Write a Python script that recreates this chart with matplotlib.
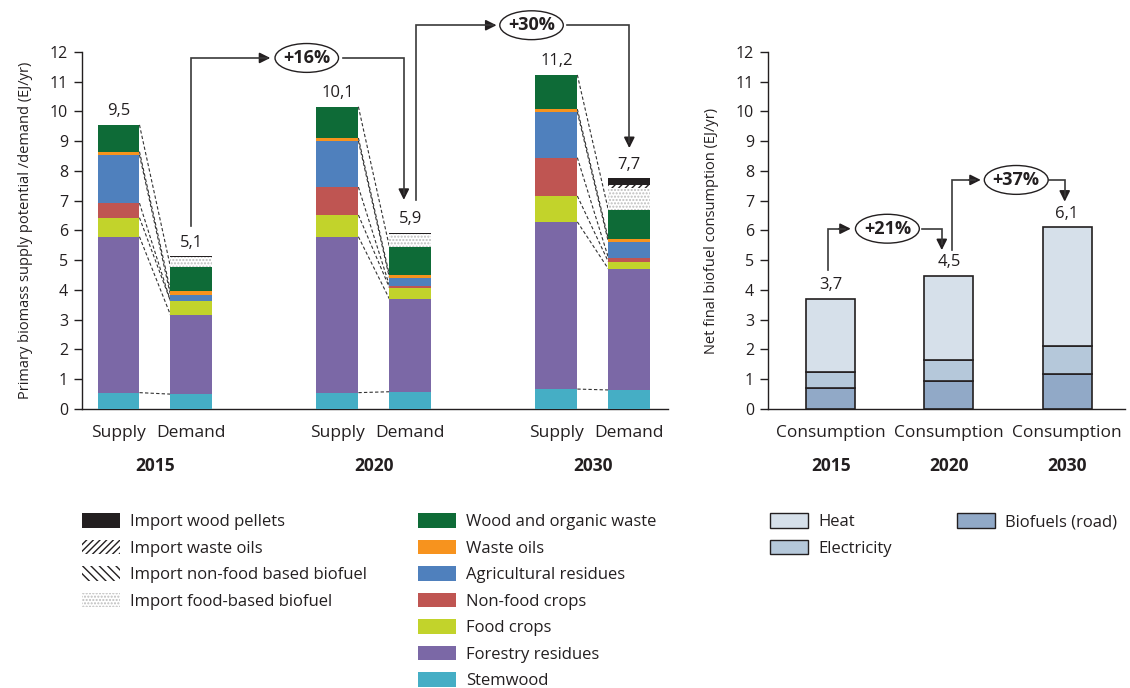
import numpy as np
import matplotlib
matplotlib.use("Agg")
import matplotlib.pyplot as plt
from matplotlib.patches import Patch, Ellipse

plt.rcParams['font.family'] = ['Open Sans', 'DejaVu Sans']
TXT = '#231f20'

# ---------------- data ----------------
years = ['2015', '2020', '2030']

# supply layers (bottom -> top)
sup_stemwood = [0.55, 0.55, 0.67]
sup_forestry = [5.24, 5.24, 5.62]
sup_food = [0.64, 0.73, 0.87]
sup_nonfood = [0.49, 0.94, 1.29]
sup_agri = [1.62, 1.55, 1.53]
sup_wasteoil = [0.11, 0.10, 0.10]
sup_wood = [0.90, 1.05, 1.15]

# demand layers (bottom -> top)
dem_stemwood = [0.50, 0.58, 0.64]
dem_forestry = [2.66, 3.12, 4.07]
dem_food = [0.47, 0.38, 0.24]
dem_nonfood = [0.00, 0.07, 0.14]
dem_agri = [0.20, 0.26, 0.53]
dem_wasteoil = [0.14, 0.09, 0.09]
dem_wood = [0.80, 0.95, 0.98]
dem_imp_food = [0.33, 0.43, 0.73]
dem_imp_nonfood = [0.00, 0.00, 0.00]
dem_imp_wasteoil = [0.00, 0.00, 0.11]
dem_imp_pellets = [0.04, 0.04, 0.23]

supply_labels = ['9,5', '10,1', '11,2']
demand_labels = ['5,1', '5,9', '7,7']
left_growth = ['+16%', '+30%']

# final consumption (bottom -> top)
cons_biofuels = [0.69, 0.94, 1.19]
cons_electricity = [0.56, 0.70, 0.94]
cons_heat = [2.46, 2.83, 3.98]
cons_labels = ['3,7', '4,5', '6,1']
right_growth = ['+21%', '+37%']

# ---------------- styles ----------------
domestic_names = ['Stemwood', 'Forestry residues', 'Food crops', 'Non-food crops',
                  'Agricultural residues', 'Waste oils', 'Wood and organic waste']
domestic_colors = ['#45aec5', '#7b68a6', '#c2d32b', '#bf5552',
                   '#4f80bd', '#f7931e', '#0e6b37']
import_names = ['Import food-based biofuel', 'Import non-food based biofuel',
                'Import waste oils', 'Import wood pellets']

fig = plt.figure(figsize=(11.3, 6.88), dpi=100)
W, H = 1130, 688
ax1 = fig.add_axes([82 / W, 1 - 409 / H, (668 - 82) / W, (409 - 52) / H])
ax2 = fig.add_axes([768 / W, 1 - 409 / H, (1125 - 768) / W, (409 - 52) / H])

for ax in (ax1, ax2):
    ax.set_ylim(0, 12)
    ax.set_yticks(range(0, 13))
    ax.spines['top'].set_visible(False)
    ax.spines['right'].set_visible(False)
    for s in ('left', 'bottom'):
        ax.spines[s].set_color(TXT)
        ax.spines[s].set_linewidth(1.0)
    ax.tick_params(axis='y', direction='out', length=6, width=1, color=TXT,
                   labelsize=11.5, labelcolor=TXT, pad=4)
    ax.tick_params(axis='x', length=0, labelbottom=False)

# ---------------- left chart ----------------
bw = 0.575
sup_x = np.array([0, 3, 6])
dem_x = sup_x + 1
ax1.set_xlim(-0.5, 7.53)

sup_layers = [sup_stemwood, sup_forestry, sup_food, sup_nonfood, sup_agri, sup_wasteoil, sup_wood]
dem_layers = [dem_stemwood, dem_forestry, dem_food, dem_nonfood, dem_agri, dem_wasteoil, dem_wood]

bottom = np.zeros(3)
for vals, col in zip(sup_layers, domestic_colors):
    ax1.bar(sup_x, vals, bw, bottom=bottom, color=col, linewidth=0, zorder=3)
    bottom += np.array(vals)
sup_tot = bottom.copy()
sup_tops = np.cumsum(np.array(sup_layers), axis=0)

bottom = np.zeros(3)
for vals, col in zip(dem_layers, domestic_colors):
    ax1.bar(dem_x, vals, bw, bottom=bottom, color=col, linewidth=0, zorder=3)
    bottom += np.array(vals)
dem_tops = np.cumsum(np.array(dem_layers), axis=0)

imp_styles = [dict(color='white', edgecolor='#bdbdbd', hatch='.....'),
              dict(color='white', edgecolor=TXT, hatch='\\\\\\\\'),
              dict(color='white', edgecolor=TXT, hatch='/////'),
              dict(color=TXT, edgecolor=TXT, hatch=None)]
for vals, st in zip([dem_imp_food, dem_imp_nonfood, dem_imp_wasteoil, dem_imp_pellets], imp_styles):
    ax1.bar(dem_x, vals, bw, bottom=bottom, linewidth=0, zorder=3, **st)
    bottom += np.array(vals)
dem_tot = bottom.copy()

# dashed connector lines
for i in range(3):
    for k in range(sup_tops.shape[0]):
        ax1.plot([sup_x[i] + bw / 2, dem_x[i] - bw / 2],
                 [sup_tops[k, i], dem_tops[k, i]],
                 ls=(0, (3, 2)), lw=0.8, color='#333333', zorder=2)

for i in range(3):
    ax1.annotate(supply_labels[i], (sup_x[i], sup_tot[i]), xytext=(0, 4),
                 textcoords='offset points', ha='center', va='bottom', fontsize=12, color=TXT)
    ax1.annotate(demand_labels[i], (dem_x[i], dem_tot[i]), xytext=(0, 4),
                 textcoords='offset points', ha='center', va='bottom', fontsize=12, color=TXT)
    ax1.text(sup_x[i], -0.81, 'Supply', ha='center', va='center', fontsize=12.5, color=TXT)
    ax1.text(dem_x[i], -0.81, 'Demand', ha='center', va='center', fontsize=12.5, color=TXT)
    ax1.text(sup_x[i] + 0.5, -1.92, years[i], ha='center', va='center', fontsize=12.5,
             fontweight='bold', color=TXT)

ax1.set_ylabel('Primary biomass supply potential /demand (EJ/yr)', fontsize=10.5,
               color=TXT, labelpad=12)


def growth(ax, x0, y0, ytop, xtip, cx, ew, eh, xr, x1, y1, label):
    kw = dict(color='#3a3a3a', lw=1.2, clip_on=False, zorder=5)
    ax.plot([x0, x0, xtip - 0.05], [y0, ytop, ytop], solid_joinstyle='miter', **kw)
    ax.annotate('', xy=(xtip, ytop), xytext=(xtip - 0.1, ytop), annotation_clip=False,
                arrowprops=dict(arrowstyle='-|>', mutation_scale=16, lw=1.2, color=TXT,
                                shrinkA=0, shrinkB=0))
    ax.add_patch(Ellipse((cx, ytop), ew, eh, facecolor='white', edgecolor=TXT, lw=1.0,
                         clip_on=False, zorder=6))
    ax.text(cx, ytop, label, ha='center', va='center', fontsize=13, fontweight='bold',
            color=TXT, zorder=7, clip_on=False)
    ax.plot([xr, x1, x1], [ytop, ytop, y1 + 0.2], solid_joinstyle='miter', **kw)
    ax.annotate('', xy=(x1, y1), xytext=(x1, y1 + 0.3), annotation_clip=False,
                arrowprops=dict(arrowstyle='-|>', mutation_scale=16, lw=1.2, color=TXT,
                                shrinkA=0, shrinkB=0))


# +16%
growth(ax1, dem_x[0], dem_tot[0] + 1.02, 11.8, 2.08, 2.58, 0.87, 0.97, 3.08,
       dem_x[1] - 0.09, dem_tot[1] + 1.11, left_growth[0])
# +30%
growth(ax1, dem_x[1] + 0.08, dem_tot[1] + 1.11, 12.9, 5.18, 5.66, 0.87, 0.97, 6.14,
       dem_x[2], dem_tot[2] + 1.01, left_growth[1])

# ---------------- right chart ----------------
cx_ = np.array([0, 1, 2])
bw2 = 0.415
ax2.set_xlim(-0.53, 2.49)
cons_layers = [cons_biofuels, cons_electricity, cons_heat]
cons_colors = ['#91a9c7', '#b5c8da', '#d6e0ea']
bottom = np.zeros(3)
for vals, col in zip(cons_layers, cons_colors):
    ax2.bar(cx_, vals, bw2, bottom=bottom, color=col, edgecolor=TXT, linewidth=1.2, zorder=3)
    bottom += np.array(vals)
cons_tot = bottom.copy()
for i in range(3):
    ax2.annotate(cons_labels[i], (cx_[i], cons_tot[i]), xytext=(0, 4),
                 textcoords='offset points', ha='center', va='bottom', fontsize=12, color=TXT)
    ax2.text(cx_[i], -0.81, 'Consumption', ha='center', va='center', fontsize=12.5, color=TXT)
    ax2.text(cx_[i], -1.92, years[i], ha='center', va='center', fontsize=12.5,
             fontweight='bold', color=TXT)
ax2.set_ylabel('Net final biofuel consumption (EJ/yr)', fontsize=10.5, color=TXT, labelpad=12)

growth(ax2, cx_[0] - 0.02, cons_tot[0] + 0.96, cons_tot[0] + 2.35, 0.17, 0.48, 0.54, 0.97,
       0.77, cx_[1] - 0.06, cons_tot[1] + 0.87, right_growth[0])
growth(ax2, cx_[1] + 0.03, cons_tot[1] + 0.87, cons_tot[1] + 3.23, 1.27, 1.57, 0.54, 0.97,
       1.85, cx_[2] - 0.02, cons_tot[2] + 0.86, right_growth[1])

# ---------------- legends ----------------
leg_kw = dict(frameon=False, fontsize=12, handlelength=2.3, handleheight=1.0,
              labelspacing=0.56, handletextpad=0.6, borderpad=0, borderaxespad=0,
              loc='upper left', labelcolor=TXT)
h_imp = [Patch(facecolor=TXT, edgecolor=TXT, lw=0, label=import_names[3]),
         Patch(facecolor='white', edgecolor=TXT, hatch='/////', lw=0, label=import_names[2]),
         Patch(facecolor='white', edgecolor=TXT, hatch='\\\\\\\\', lw=0, label=import_names[1]),
         Patch(facecolor='white', edgecolor='#bdbdbd', hatch='.....', lw=0, label=import_names[0])]
fig.legend(handles=h_imp, bbox_to_anchor=(82 / W, 1 - 513 / H), **leg_kw)
h_dom = [Patch(facecolor=c, lw=0, label=n) for n, c in
         zip(domestic_names[::-1], domestic_colors[::-1])]
fig.legend(handles=h_dom, bbox_to_anchor=(418 / W, 1 - 513 / H), **leg_kw)
h_cons = [Patch(facecolor=cons_colors[2], edgecolor=TXT, lw=1.0, label='Heat'),
          Patch(facecolor=cons_colors[1], edgecolor=TXT, lw=1.0, label='Electricity'),
          Patch(facecolor=cons_colors[0], edgecolor=TXT, lw=1.0, label='Biofuels (road)')]
fig.legend(handles=h_cons, ncol=2, columnspacing=3.9, bbox_to_anchor=(770 / W, 1 - 513 / H),
           **leg_kw)

fig.savefig('out.png', dpi=100)
